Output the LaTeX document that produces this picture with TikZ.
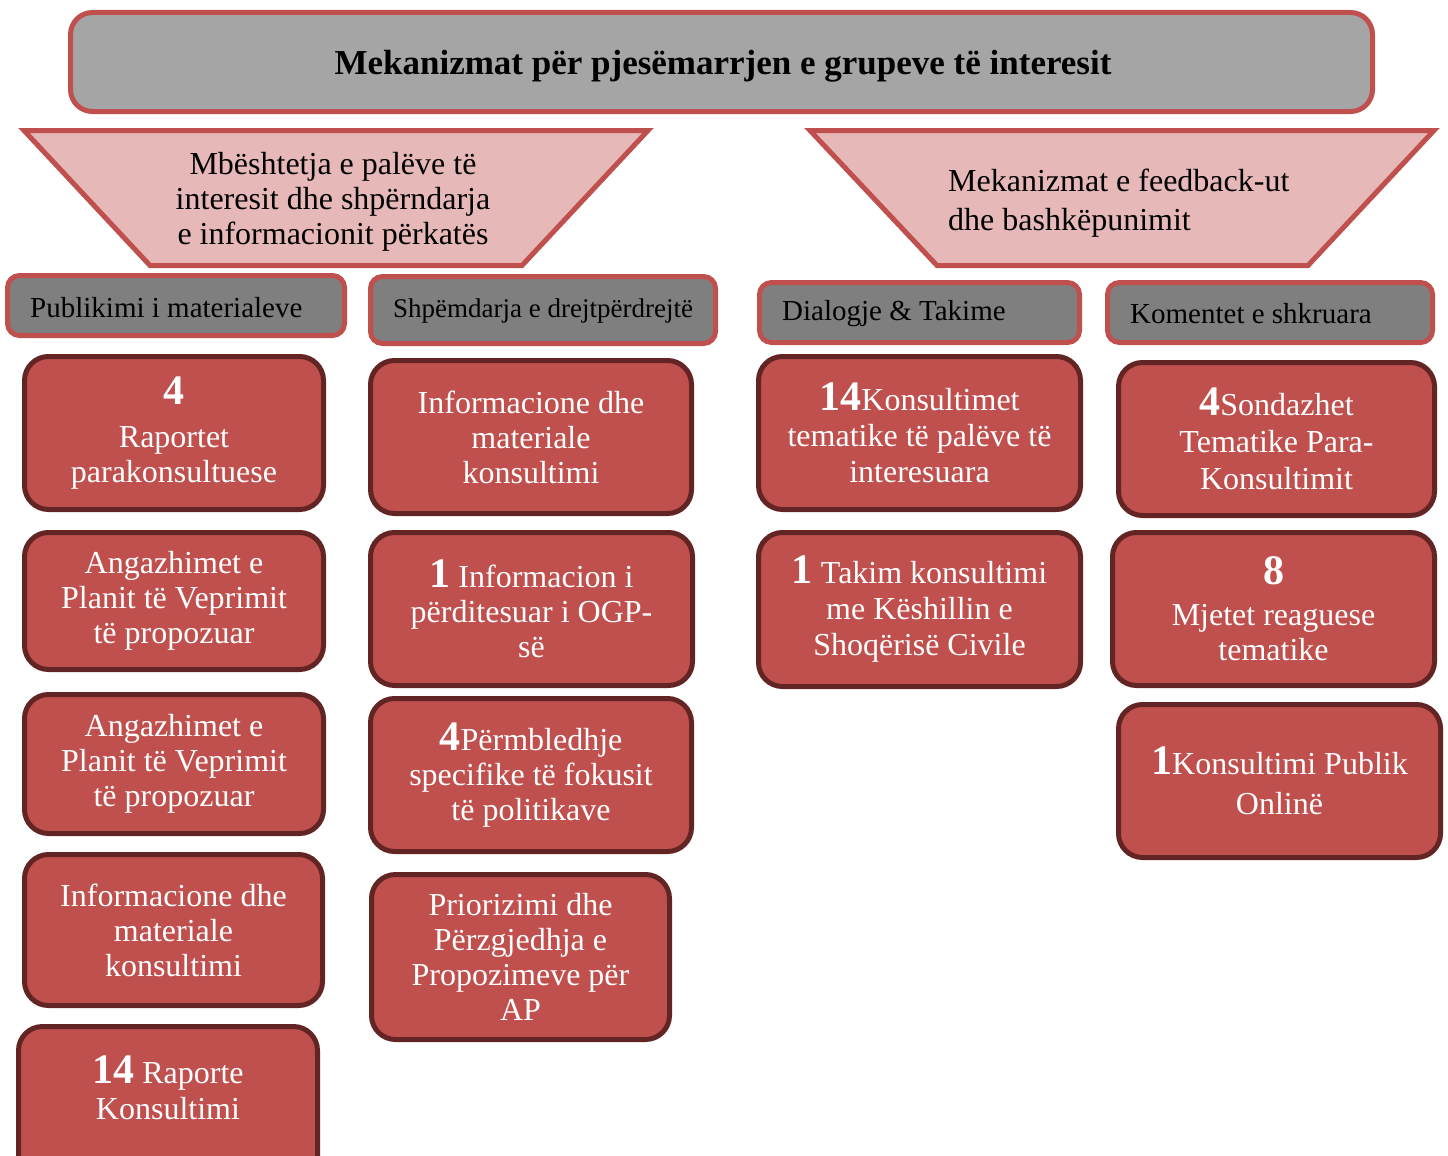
\documentclass[tikz,border=0pt]{standalone}
\usepackage{fontspec}
\setmainfont{Liberation Serif}
\definecolor{edgered}{HTML}{C0504D}
\definecolor{titlegray}{HTML}{A5A5A5}
\definecolor{trappink}{HTML}{E6B8B7}
\definecolor{hdrgray}{HTML}{7F7F7F}
\definecolor{boxred}{HTML}{C0504D}
\definecolor{boxedge}{HTML}{632523}
\newcommand{\bignum}[1]{{\fontsize{42}{42}\selectfont\bfseries #1}}
\tikzset{
  titlebox/.style={draw=edgered, fill=titlegray, line width=5pt, rounded corners=22pt, inner sep=0pt},
  trapbox/.style={draw=edgered, fill=trappink, line width=5pt},
  hdrbox/.style={draw=edgered, fill=hdrgray, line width=5pt, rounded corners=12pt, inner sep=0pt},
  hdrtext/.style={anchor=west, inner sep=0pt, text=black},
  redbox/.style={draw=boxedge, fill=boxred, line width=5pt, rounded corners=24pt, inner sep=0pt,
    text=white, align=center, font=\fontsize{32}{35}\selectfont},
  labeltext/.style={inner sep=0pt, align=center, text=black, font=\fontsize{32}{35}\selectfont}
}
\begin{document}
\begin{tikzpicture}[x=1pt,y=-1pt]
\useasboundingbox (0,0) rectangle (1448,1156);
\clip (0,0) rectangle (1448,1156);
% title
\node[titlebox, minimum width=1302, minimum height=99] (title) at (721.5,62) {};
\node[inner sep=0pt, font=\fontsize{35}{35}\selectfont\bfseries] (titletext) at (723,66) {Mekanizmat për pjesëmarrjen e grupeve të interesit};
% trapezoids
\draw[trapbox] (24,130.5) -- (648,130.5) -- (522,265.5) -- (150,265.5) -- cycle;
\draw[trapbox] (810,130.5) -- (1434,130.5) -- (1308,265.5) -- (937,265.5) -- cycle;
\node[labeltext] (trapL) at (333,202) {Mbështetja e palëve të\\interesit dhe shpërndarja\\e informacionit përkatës};
\node[labeltext, align=left, anchor=west, font=\fontsize{32}{39}\selectfont] (trapR) at (948,203) {Mekanizmat e feedback-ut\\dhe bashkëpunimit};
% headers
\node[hdrbox, minimum width=337, minimum height=60] (h1) at (176,305.5) {};
\node[hdrtext, font=\fontsize{29}{29}\selectfont] (h1t) at (30,308) {Publikimi i materialeve};
\node[hdrbox, minimum width=345, minimum height=67] (h2) at (543,310) {};
\node[hdrtext, font=\fontsize{27}{27}\selectfont] (h2t) at (393,311) {Shpëmdarja e drejtpërdrejtë};
\node[hdrbox, minimum width=320, minimum height=60] (h3) at (919.5,312.5) {};
\node[hdrtext, font=\fontsize{29}{29}\selectfont] (h3t) at (782,314) {Dialogje \& Takime};
\node[hdrbox, minimum width=325, minimum height=60] (h4) at (1270,312.5) {};
\node[hdrtext, font=\fontsize{29}{29}\selectfont] (h4t) at (1130,314) {Komentet e shkruara};
% column 1
\node[redbox, minimum width=299, minimum height=153] (a1) at (174,433) {\bignum{4}\\[8pt]Raportet\\parakonsultuese};
\node[redbox, minimum width=299, minimum height=137] (a2) at (174,601) {Angazhimet e\\Planit të Veprimit\\të propozuar};
\node[redbox, minimum width=299, minimum height=139] (a3) at (174,764) {Angazhimet e\\Planit të Veprimit\\të propozuar};
\node[redbox, minimum width=298, minimum height=151] (a4) at (173.5,930) {Informacione dhe\\materiale\\konsultimi};
\node[redbox, minimum width=299, minimum height=161] (a5) at (168,1107) {};
\node[inner sep=0pt, align=center, text=white, font=\fontsize{32}{36}\selectfont] (a5t) at (168,1088) {\bignum{14} Raporte\\Konsultimi};
% column 2
\node[redbox, minimum width=321, minimum height=153] (b1) at (531,437) {Informacione dhe\\materiale\\konsultimi};
\node[redbox, minimum width=322, minimum height=153] (b2) at (531.5,609) {\bignum{1} Informacion i\\përditesuar i OGP-\\së};
\node[redbox, minimum width=321, minimum height=153] (b3) at (531,775) {\bignum{4}Përmbledhje\\specifike të fokusit\\të politikave};
\node[redbox, minimum width=298, minimum height=165] (b4) at (520.5,957) {Priorizimi dhe\\Përzgjedhja e\\Propozimeve për\\AP};
% column 3
\node[redbox, minimum width=322, minimum height=153, font=\fontsize{32}{36}\selectfont] (c1) at (919.5,433) {\bignum{14}Konsultimet\\tematike të palëve të\\interesuara};
\node[redbox, minimum width=322, minimum height=154, font=\fontsize{32}{36}\selectfont] (c2) at (919.5,609.5) {\bignum{1} Takim konsultimi\\me Këshillin e\\Shoqërisë Civile};
% column 4
\node[redbox, minimum width=316, minimum height=153, font=\fontsize{32}{37}\selectfont] (d1) at (1276.5,439) {\bignum{4}Sondazhet\\Tematike Para-\\Konsultimit};
\node[redbox, minimum width=322, minimum height=153] (d2) at (1273.5,609) {\bignum{8}\\[6pt]Mjetet reaguese\\tematike};
\node[redbox, minimum width=322, minimum height=153, font=\fontsize{32}{40}\selectfont] (d3) at (1279.5,781) {\bignum{1}Konsultimi Publik\\Onlinë};
\end{tikzpicture}
\end{document}
